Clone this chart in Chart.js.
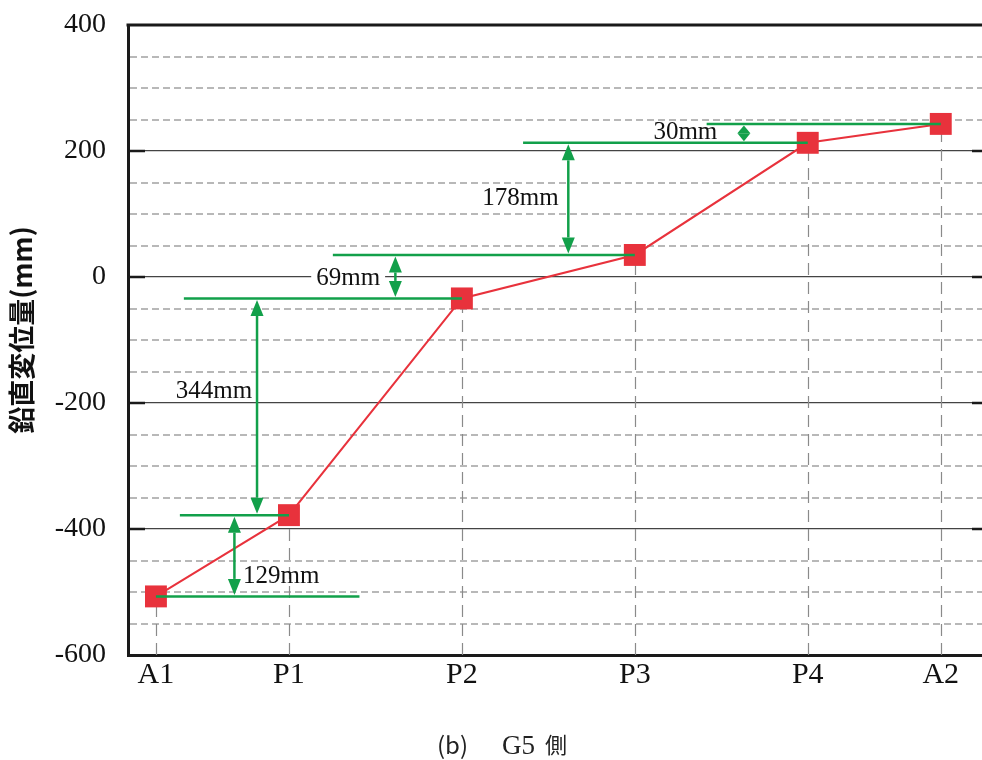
<!DOCTYPE html>
<html>
<head>
<meta charset="utf-8">
<script src="https://cdn.jsdelivr.net/npm/chart.js@4.4.0/dist/chart.umd.min.js"></script>
<style>
  html, body { margin: 0; padding: 0; background: #fff; }
  canvas { display: block; }
</style>
</head>
<body>
<canvas id="dispChart" width="982" height="760"></canvas>
<script>
// --- 鉛直変位量 (G5 側) ---

// 測点名と位置 (横軸の距離)
const pointNames = ['A1', 'P1', 'P2', 'P3', 'P4', 'A2'];
const pointPos = [0, 10, 23, 36, 49, 59];
// 各測点の鉛直変位量 (mm)
const dispValues = [-507, -378, -34, 35, 213, 243];
// 縦軸の目盛ラベル
const yTickLabels = [400, 200, 0, -200, -400, -600];

// 緑の水平線 (各測点の高さから横に引く線の範囲)
const levelFrom = [0, 1.8, 2.1, 13.3, 27.6, 41.4];
const levelTo = [15.3, 10, 23, 36, 49, 59];

// 差分の矢印と文字
const diffLabels = ['129mm', '344mm', '69mm', '178mm', '30mm'];
const arrowX = [5.9, 7.6, 18.0, 31.0, 44.2];
const diffTextX = [6.55, 4.37, 14.45, 27.4, 39.8];
const diffTextY = [-475, -182, -2, 124, 229];
const diffTextAlign = ['left', 'center', 'center', 'center', 'center'];
const diffTextBg = [false, false, true, false, false];

const GREEN = '#12a04a';
const RED = '#e8323c';

function drawArrow(ctx, x, y1, y2) {
    // y1: 上端, y2: 下端 (pixel)
    const span = y2 - y1;
    const head = Math.min(16, span / 2);
    const hw = 6.5;
    ctx.strokeStyle = GREEN;
    ctx.fillStyle = GREEN;
    ctx.lineWidth = 2.5;
    ctx.beginPath();
    ctx.moveTo(x, y1 + head);
    ctx.lineTo(x, y2 - head);
    ctx.stroke();
    ctx.beginPath();
    ctx.moveTo(x, y1);
    ctx.lineTo(x - hw, y1 + head);
    ctx.lineTo(x + hw, y1 + head);
    ctx.closePath();
    ctx.fill();
    ctx.beginPath();
    ctx.moveTo(x, y2);
    ctx.lineTo(x - hw, y2 - head);
    ctx.lineTo(x + hw, y2 - head);
    ctx.closePath();
    ctx.fill();
}

const decorPlugin = {
    id: 'decor',
    beforeDatasetsDraw(chart) {
        const { ctx, chartArea: area, scales: { x, y } } = chart;
        ctx.save();
        // 測点からの縦の破線
        ctx.strokeStyle = '#8a8a8a';
        ctx.lineWidth = 1.2;
        ctx.setLineDash([12, 7]);
        pointPos.forEach((p, i) => {
            const px = Math.round(x.getPixelForValue(p)) + 0.5;
            ctx.beginPath();
            ctx.moveTo(px, y.getPixelForValue(-600));
            ctx.lineTo(px, y.getPixelForValue(dispValues[i]));
            ctx.stroke();
        });
        ctx.setLineDash([]);
        // 上枠
        ctx.strokeStyle = '#1a1a1a';
        ctx.lineWidth = 3;
        ctx.beginPath();
        ctx.moveTo(area.left - 1.5, area.top);
        ctx.lineTo(area.right, area.top);
        ctx.stroke();
        // 内向きの目盛 (左右)
        ctx.lineWidth = 2.5;
        yTickLabels.forEach(v => {
            if (v === 400 || v === -600) return;
            const py = y.getPixelForValue(v);
            ctx.beginPath();
            ctx.moveTo(area.left, py);
            ctx.lineTo(area.left + 17, py);
            ctx.moveTo(area.right - 10, py);
            ctx.lineTo(area.right, py);
            ctx.stroke();
        });
        ctx.restore();
    },
    afterDatasetsDraw(chart) {
        const { ctx, scales: { x, y } } = chart;
        ctx.save();
        // 緑の水平線
        ctx.strokeStyle = GREEN;
        ctx.lineWidth = 2.5;
        dispValues.forEach((v, i) => {
            const py = y.getPixelForValue(v);
            ctx.beginPath();
            ctx.moveTo(x.getPixelForValue(levelFrom[i]), py);
            ctx.lineTo(x.getPixelForValue(levelTo[i]), py);
            ctx.stroke();
        });
        // 差分の矢印
        arrowX.forEach((ax, i) => {
            const top = y.getPixelForValue(dispValues[i + 1]);
            const bottom = y.getPixelForValue(dispValues[i]);
            drawArrow(ctx, x.getPixelForValue(ax), top + 1.5, bottom - 1.5);
        });
        // 差分の文字
        ctx.font = '25px "Liberation Serif", "Times New Roman", serif';
        ctx.textBaseline = 'middle';
        diffLabels.forEach((t, i) => {
            const tx = x.getPixelForValue(diffTextX[i]);
            const ty = y.getPixelForValue(diffTextY[i]);
            ctx.textAlign = diffTextAlign[i];
            if (diffTextBg[i]) {
                const w = ctx.measureText(t).width + 10;
                let left = tx - w / 2;
                if (diffTextAlign[i] === 'left') left = tx - 5;
                ctx.fillStyle = '#fff';
                ctx.fillRect(left, ty - 12, w, 24);
            }
            ctx.fillStyle = '#111';
            ctx.fillText(t, tx, ty);
        });
        ctx.restore();
    },
    afterDraw(chart) {
        const { ctx } = chart;
        ctx.save();
        // 縦軸タイトル
        ctx.translate(22, 330);
        ctx.rotate(-Math.PI / 2);
        ctx.font = 'bold 27px "Noto Sans CJK JP", sans-serif';
        ctx.fillStyle = '#111';
        ctx.textAlign = 'center';
        ctx.textBaseline = 'middle';
        ctx.fillText('鉛直変位量(mm)', 0, 0);
        ctx.restore();
        // キャプション
        ctx.save();
        ctx.fillStyle = '#222';
        ctx.textBaseline = 'middle';
        ctx.textAlign = 'left';
        ctx.font = '24px "Noto Sans CJK JP", sans-serif';
        ctx.fillText('(b)', 437, 745);
        ctx.font = '27px "Liberation Serif", serif';
        ctx.fillText('G5', 502, 747);
        ctx.font = '22px "Noto Sans CJK JP", sans-serif';
        ctx.fillText('側', 545, 745);
        ctx.restore();
    }
};

const ctx = document.getElementById('dispChart').getContext('2d');
new Chart(ctx, {
    type: 'line',
    data: {
        datasets: [{
            data: pointPos.map((p, i) => ({ x: p, y: dispValues[i] })),
            borderColor: RED,
            borderWidth: 2,
            backgroundColor: RED,
            pointStyle: 'rect',
            pointRadius: 15.5,
            pointHoverRadius: 15.5,
            pointBorderWidth: 0,
            tension: 0,
            clip: false
        }]
    },
    options: {
        responsive: false,
        animation: false,
        devicePixelRatio: 1,
        layout: { autoPadding: false, padding: { top: 25, right: 0, left: 0, bottom: 0 } },
        plugins: {
            legend: { display: false },
            tooltip: { enabled: false }
        },
        scales: {
            x: {
                type: 'linear',
                min: -2.1,
                max: 62.1,
                afterBuildTicks(scale) {
                    scale.ticks = pointPos.map(v => ({ value: v }));
                },
                afterFit(scale) {
                    scale.height = 105;
                    scale.paddingLeft = 0;
                    scale.paddingRight = 0;
                },
                grid: { display: false, drawTicks: false },
                border: { color: '#1a1a1a', width: 3 },
                ticks: {
                    autoSkip: false,
                    maxRotation: 0,
                    padding: 2,
                    color: '#111',
                    font: { family: '"Liberation Serif", "Times New Roman", serif', size: 30 },
                    callback: (v) => pointNames[pointPos.indexOf(v)] || ''
                }
            },
            y: {
                min: -600,
                max: 400,
                afterFit(scale) {
                    scale.width = 128;
                    scale.paddingTop = 0;
                    scale.paddingBottom = 0;
                },
                grid: {
                    drawTicks: false,
                    color: (c) => (c.tick && c.tick.value % 200 === 0) ? '#444' : '#b8b8b8',
                    lineWidth: (c) => (c.tick && c.tick.value % 200 === 0) ? 1.2 : 2
                },
                border: {
                    color: '#1a1a1a',
                    width: 3,
                    dash: (c) => (c.tick && c.tick.value % 200 !== 0) ? [7, 4] : []
                },
                ticks: {
                    stepSize: 50,
                    autoSkip: false,
                    padding: 22,
                    color: '#111',
                    font: { family: '"Liberation Serif", "Times New Roman", serif', size: 28 },
                    callback: (v) => yTickLabels.includes(v) ? String(v) : ''
                }
            }
        }
    },
    plugins: [decorPlugin]
});
</script>
</body>
</html>
